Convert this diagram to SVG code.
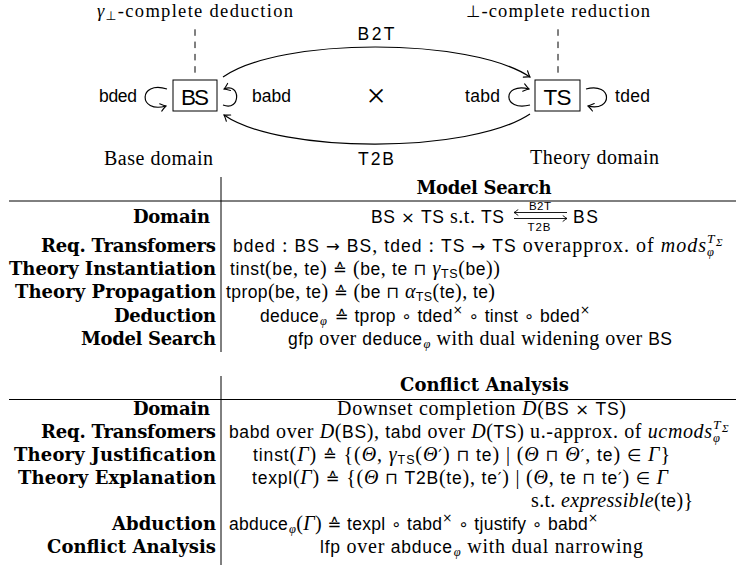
<svg xmlns="http://www.w3.org/2000/svg" width="736" height="572" viewBox="0 0 736 572">
<style>
text { fill: #000; }
.rm { font-family: "Liberation Serif", serif; font-size: 20px; }
.it { font-family: "Liberation Serif", serif; font-style: italic; font-size: 20px; }
.sf { font-family: "Liberation Sans", sans-serif; font-size: 17.5px; font-style: normal; }
.sy { font-family: "DejaVu Sans", sans-serif; font-size: 16.5px; font-style: normal; }
.sb { font-size: 12.5px; }
.ss { font-size: 12px; }
.top { font-family: "Liberation Serif", serif; font-size: 18.5px; text-anchor: middle; }
.lbl { font-family: "DejaVu Serif", serif; font-weight: bold; font-size: 18px; text-anchor: end; }
.hdr { font-family: "DejaVu Serif", serif; font-weight: bold; font-size: 18px; text-anchor: middle; }
.big { font-family: "Liberation Sans", sans-serif; font-size: 22.5px; text-anchor: middle; }
.tiny { font-family: "Liberation Sans", sans-serif; font-size: 11.5px; text-anchor: middle; }
.ln { fill: none; stroke: #000; stroke-width: 1.2; }
.rule { stroke: #000; stroke-width: 1; }
.dash { stroke: #000; stroke-width: 1; stroke-dasharray: 6.5 5.8; }
</style>
<defs>
<marker id="ah" viewBox="-7 -5 8 10" refX="0" refY="0" markerWidth="8" markerHeight="10" markerUnits="userSpaceOnUse" orient="auto">
<path d="M-5.5,-3.8 Q-2,-1 0,0 Q-2,1 -5.5,3.8" fill="none" stroke="#000" stroke-width="1.1" stroke-linecap="round"/>
</marker>
<marker id="ahs" viewBox="-6 -4 7 8" refX="0" refY="0" markerWidth="7" markerHeight="8" markerUnits="userSpaceOnUse" orient="auto">
<path d="M-4,-2.8 Q-1.5,-0.8 0,0 Q-1.5,0.8 -4,2.8" fill="none" stroke="#000" stroke-width="0.9" stroke-linecap="round"/>
</marker>
</defs>

<!-- annotations -->
<text class="top" x="195" y="17" textLength="196"><tspan class="it" style="font-size:18.5px">γ</tspan><tspan class="sy sb" dy="3">⊥</tspan><tspan dy="-3">-complete deduction</tspan></text>
<text class="top" x="558" y="17" textLength="184"><tspan class="sy">⊥</tspan>-complete reduction</text>
<text class="rm" x="158.5" y="165" text-anchor="middle" textLength="109">Base domain</text>
<text class="rm" x="594.5" y="164" text-anchor="middle" textLength="129">Theory domain</text>

<!-- nodes -->
<g id="node-BS">
<rect x="173" y="80" width="44" height="31" fill="#fff" stroke="#000" stroke-width="1"/>
<text class="big" x="195" y="105" textLength="28">BS</text>
</g>
<g id="node-TS">
<rect x="535" y="80" width="45" height="31" fill="#fff" stroke="#000" stroke-width="1"/>
<text class="big" x="557.5" y="105" textLength="28">TS</text>
</g>

<!-- connectors -->
<g id="connectors">
<line class="dash" x1="195" y1="29.3" x2="195" y2="74"/>
<line class="dash" x1="558" y1="29.3" x2="558" y2="74"/>
<path class="ln" d="M223,77 C280,37 470,37 530,77" marker-end="url(#ah)"/>
<path class="ln" d="M530,114 C470,154 280,154 224,115" marker-end="url(#ah)"/>
<path class="ln" d="M167,89 C138,80 138,114 166,106" marker-end="url(#ah)"/>
<path class="ln" d="M223,105 C241,112 241,82 224,89" marker-end="url(#ah)"/>
<path class="ln" d="M530,105 C502,112 502,82 529,89" marker-end="url(#ah)"/>
<path class="ln" d="M586,89 C613,82 613,112 588,106" marker-end="url(#ah)"/>
</g>
<g id="connector-labels">
<text class="sf" x="376" y="40" text-anchor="middle" textLength="37">B2T</text>
<text class="sf" x="376" y="165" text-anchor="middle" textLength="36">T2B</text>
<text class="sf" x="99" y="102" textLength="38">bded</text>
<text class="sf" x="252" y="102" textLength="39">babd</text>
<text class="sf" x="465" y="102" textLength="35">tabd</text>
<text class="sf" x="615" y="102" textLength="35">tded</text>
<text x="376" y="107" text-anchor="middle" style="font-family:'Liberation Serif',serif;font-size:34px">×</text>
</g>

<!-- Table 1: Model Search -->
<g id="table-model-search">
<line class="rule" x1="221" y1="177" x2="221" y2="352"/>
<line class="rule" x1="9" y1="201" x2="736" y2="201"/>
<text class="hdr" x="484" y="194" textLength="135">Model Search</text>
<text class="lbl" x="210" y="223" textLength="77">Domain</text>
<text class="lbl" x="216" y="252" textLength="175">Req. Transfomers</text>
<text class="lbl" x="216" y="275" textLength="207">Theory Instantiation</text>
<text class="lbl" x="216" y="298" textLength="201">Theory Propagation</text>
<text class="lbl" x="216" y="322" textLength="102">Deduction</text>
<text class="lbl" x="216" y="345" textLength="135">Model Search</text>

<text class="rm" x="371" y="223" textLength="133"><tspan class="sf">BS</tspan> <tspan class="sy">×</tspan> <tspan class="sf">TS</tspan> s.t. <tspan class="sf">TS</tspan></text>
<text class="sf" x="573" y="223" textLength="25">BS</text>
<line x1="567" y1="212.5" x2="514" y2="212.5" stroke="#000" stroke-width="0.9" marker-end="url(#ahs)"/>
<line x1="514" y1="218.5" x2="567" y2="218.5" stroke="#000" stroke-width="0.9" marker-end="url(#ahs)"/>
<text class="tiny" x="540" y="209.5" textLength="22">B2T</text>
<text class="tiny" x="539" y="231" textLength="23">T2B</text>

<text class="rm" x="233" y="252" textLength="473"><tspan class="sf">bded</tspan> : <tspan class="sf">BS</tspan> <tspan class="sy">→</tspan> <tspan class="sf">BS</tspan>, <tspan class="sf">tded</tspan> : <tspan class="sf">TS</tspan> <tspan class="sy">→</tspan> <tspan class="sf">TS</tspan> overapprox. of <tspan class="it">mods</tspan></text>
<text class="it sb" x="707" y="256">φ</text>
<text class="it" x="707" y="243" style="font-size:13.5px">T</text>
<text class="it" x="716" y="246" style="font-size:11px">Σ</text>

<text class="rm" x="230" y="275" textLength="270"><tspan class="sf">tinst</tspan>(<tspan class="sf">be</tspan>, <tspan class="sf">te</tspan>) <tspan class="sy">≙</tspan> (<tspan class="sf">be</tspan>, <tspan class="sf">te</tspan> <tspan class="sy">⊓</tspan> <tspan class="it">γ</tspan><tspan class="sf sb" dy="3">TS</tspan><tspan dy="-3">(</tspan><tspan class="sf">be</tspan>))</text>
<text class="rm" x="226" y="298" textLength="269"><tspan class="sf">tprop</tspan>(<tspan class="sf">be</tspan>, <tspan class="sf">te</tspan>) <tspan class="sy">≙</tspan> (<tspan class="sf">be</tspan> <tspan class="sy">⊓</tspan> <tspan class="it">α</tspan><tspan class="sf sb" dy="3">TS</tspan><tspan dy="-3">(</tspan><tspan class="sf">te</tspan>), <tspan class="sf">te</tspan>)</text>
<text class="rm" x="260" y="322" textLength="330"><tspan class="sf">deduce</tspan><tspan class="it sb" dx="1" dy="3">φ</tspan><tspan class="sy" dx="2" dy="-3"> ≙ </tspan><tspan class="sf">tprop</tspan><tspan class="sy"> ∘ </tspan><tspan class="sf">tded</tspan><tspan class="sy ss" dy="-8">×</tspan><tspan class="sy" dy="8"> ∘ </tspan><tspan class="sf">tinst</tspan><tspan class="sy"> ∘ </tspan><tspan class="sf">bded</tspan><tspan class="sy ss" dy="-8">×</tspan></text>
<text class="rm" x="288" y="345" textLength="384"><tspan class="sf">gfp</tspan> over <tspan class="sf">deduce</tspan><tspan class="it sb" dx="1" dy="3">φ</tspan><tspan dy="-3"> with dual widening over </tspan><tspan class="sf">BS</tspan></text>
</g>

<!-- Table 2: Conflict Analysis -->
<g id="table-conflict-analysis">
<line class="rule" x1="221" y1="376" x2="221" y2="565"/>
<line class="rule" x1="9" y1="399.5" x2="736" y2="399.5"/>
<text class="hdr" x="484.5" y="391" textLength="169">Conflict Analysis</text>
<text class="lbl" x="210" y="415" textLength="77">Domain</text>
<text class="lbl" x="216" y="438" textLength="175">Req. Transfomers</text>
<text class="lbl" x="216" y="461" textLength="202">Theory Justification</text>
<text class="lbl" x="216" y="484" textLength="198">Theory Explanation</text>
<text class="lbl" x="216" y="530" textLength="104">Abduction</text>
<text class="lbl" x="216" y="553" textLength="169">Conflict Analysis</text>

<text class="rm" x="337" y="415" textLength="289">Downset completion <tspan class="it">D</tspan>(<tspan class="sf">BS</tspan> <tspan class="sy">×</tspan> <tspan class="sf">TS</tspan>)</text>
<text class="rm" x="229" y="438" textLength="483"><tspan class="sf">babd</tspan> over <tspan class="it">D</tspan>(<tspan class="sf">BS</tspan>), <tspan class="sf">tabd</tspan> over <tspan class="it">D</tspan>(<tspan class="sf">TS</tspan>) u.-approx. of <tspan class="it">ucmods</tspan></text>
<text class="it sb" x="713" y="442">φ</text>
<text class="it" x="713" y="429" style="font-size:13.5px">T</text>
<text class="it" x="722" y="432" style="font-size:11px">Σ</text>

<text class="rm" x="253" y="461" textLength="417"><tspan class="sf">tinst</tspan>(<tspan class="it">Γ</tspan>) <tspan class="sy">≙</tspan> {(<tspan class="it">Θ</tspan>, <tspan class="it">γ</tspan><tspan class="sf sb" dy="3">TS</tspan><tspan dy="-3">(</tspan><tspan class="it">Θ</tspan><tspan class="sy">′</tspan>) <tspan class="sy">⊓</tspan> <tspan class="sf">te</tspan>) | (<tspan class="it">Θ</tspan> <tspan class="sy">⊓</tspan> <tspan class="it">Θ</tspan><tspan class="sy">′</tspan>, <tspan class="sf">te</tspan>) <tspan class="sy">∈</tspan> <tspan class="it">Γ</tspan>}</text>
<text class="rm" x="252" y="484" textLength="416"><tspan class="sf">texpl</tspan>(<tspan class="it">Γ</tspan>) <tspan class="sy">≙</tspan> {(<tspan class="it">Θ</tspan> <tspan class="sy">⊓</tspan> <tspan class="sf">T2B</tspan>(<tspan class="sf">te</tspan>), <tspan class="sf">te</tspan><tspan class="sy">′</tspan>) | (<tspan class="it">Θ</tspan>, <tspan class="sf">te</tspan> <tspan class="sy">⊓</tspan> <tspan class="sf">te</tspan><tspan class="sy">′</tspan>) <tspan class="sy">∈</tspan> <tspan class="it">Γ</tspan></text>
<text class="rm" x="531" y="507" textLength="162">s.t. <tspan class="it">expressible</tspan>(<tspan class="sf">te</tspan>)}</text>
<text class="rm" x="229" y="530" textLength="369"><tspan class="sf">abduce</tspan><tspan class="it sb" dx="1" dy="3">φ</tspan><tspan dy="-3">(</tspan><tspan class="it">Γ</tspan>)<tspan class="sy"> ≙ </tspan><tspan class="sf">texpl</tspan><tspan class="sy"> ∘ </tspan><tspan class="sf">tabd</tspan><tspan class="sy ss" dy="-8">×</tspan><tspan class="sy" dy="8"> ∘ </tspan><tspan class="sf">tjustify</tspan><tspan class="sy"> ∘ </tspan><tspan class="sf">babd</tspan><tspan class="sy ss" dy="-8">×</tspan></text>
<text class="rm" x="320" y="553" textLength="323"><tspan class="sf">lfp</tspan> over <tspan class="sf">abduce</tspan><tspan class="it sb" dx="1" dy="3">φ</tspan><tspan dy="-3"> with dual narrowing</tspan></text>
</g>
</svg>
